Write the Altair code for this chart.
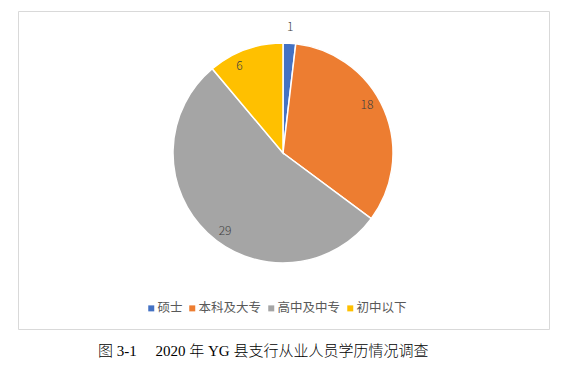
import altair as alt
import pandas as pd

categories = ["硕士", "本科及大专", "高中及中专", "初中以下"]
counts = [1, 18, 29, 6]
colors = ["#4472C4", "#ED7D31", "#A5A5A5", "#FFC000"]
caption = "图 3-1\u3000 2020 年 YG 县支行从业人员学历情况调查"

df = pd.DataFrame({"cat": categories, "v": counts, "idx": list(range(len(categories)))})

CJK = "Noto Sans CJK SC"
CX, CY = 265, 142

base = alt.Chart(df).encode(
    theta=alt.Theta("v:Q", stack=True),
    order=alt.Order("idx:Q"),
)

arcs = base.mark_arc(outerRadius=110, stroke="white", strokeWidth=1.5).encode(
    color=alt.Color(
        "cat:N",
        sort=categories,
        scale=alt.Scale(domain=categories, range=colors),
        legend=alt.Legend(
            orient="none", direction="horizontal", legendX=127, legendY=291,
            title=None, symbolType="square", symbolSize=36, symbolStrokeWidth=0,
            labelFontSize=12.5, labelColor="#595959", labelFont=CJK,
            columnPadding=3, labelOffset=0, padding=0,
        ),
    ),
    x=alt.value(CX),
    y=alt.value(CY),
)

labels = base.transform_calculate(
    lr="datum.v < 3 ? 126 : 97"
).mark_text(fontSize=12, color="#404040", font=CJK, fontWeight=300).encode(
    radius=alt.Radius("lr:Q", scale=None),
    text=alt.Text("v:Q"),
    x=alt.value(CX),
    y=alt.value(CY),
)

chart = alt.layer(arcs, labels).properties(
    width=531,
    height=318,
    autosize=alt.AutoSizeParams(type="none"),
    padding={"left": 10, "top": 3, "right": 10, "bottom": 40},
    title=alt.TitleParams(
        text=caption, orient="bottom", anchor="start", frame="group",
        dx=80, offset=15, fontSize=15, fontWeight=300,
        font="Liberation Serif, " + CJK, color="#000000",
    ),
).configure_view(stroke="#D9D9D9", strokeWidth=1)

chart.save("out.html", embed_options={"renderer": "svg", "actions": False})
